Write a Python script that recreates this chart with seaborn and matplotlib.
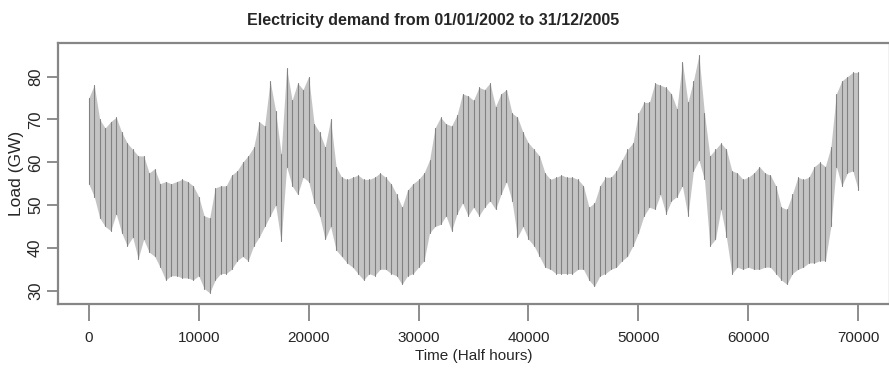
import numpy as np
import pandas as pd
import seaborn as sns
import matplotlib.pyplot as plt

time_hh = list(range(0, 70001, 500))

# daily peak envelope (GW)
load_upper = [75, 78, 70, 68, 69.5, 70.5, 67, 64.5, 63, 61.5,
              61.5, 57.5, 58.5, 55, 55.5, 55, 55.5, 56, 55.5, 54.5,
              52, 47.5, 47, 54, 54.5, 54.5, 57, 58, 60, 61.5,
              63.5, 69.5, 68.5, 79, 72, 62, 82, 74.5, 78.5, 77,
              80, 69, 67, 63.5, 70, 59, 56.5, 56, 56.5, 57,
              56, 56, 56.5, 57.5, 56.5, 55, 52.5, 49.5, 53.5, 55,
              56, 57.5, 60.5, 68, 70.5, 69, 68.5, 71, 76, 75.5,
              74.5, 77.5, 77, 78.5, 73, 76, 77, 71.5, 70.5, 67,
              64.5, 63, 61.5, 57.5, 56, 56.5, 57, 56.5, 56.5, 56,
              54.5, 49.5, 50.5, 54.5, 56.5, 56.5, 58, 60.5, 63, 64.5,
              71.5, 74, 74, 78.5, 78, 77.5, 76, 72.5, 83.5, 74,
              79, 85, 71.5, 61.5, 63, 64.5, 63, 58, 57.5, 56,
              56.5, 57.5, 59, 57.5, 57, 54.5, 49.5, 49, 52.5, 56.5,
              56, 56.5, 59, 60, 59, 63.5, 76, 79, 80, 81,
              81]

# night trough envelope (GW)
load_lower = [55, 52, 47, 45, 44, 48, 43.5, 40.5, 42.5, 37.5,
              42, 39, 38, 35.5, 32.5, 33.5, 33.5, 33, 33, 32.5,
              33.5, 30.5, 29.5, 32.5, 34, 34, 35, 37, 38, 37,
              40.5, 42.5, 45, 47.5, 50, 41.5, 59, 54.5, 52.5, 56.5,
              55.5, 50.5, 47.5, 42, 45, 39.5, 38, 36.5, 35.5, 34,
              32.5, 34, 33.5, 35, 35, 34, 33.5, 31.5, 33.5, 34,
              35.5, 37, 43.5, 45, 45.5, 47.5, 44, 48, 50.5, 47.5,
              49.5, 47.5, 49.5, 51, 49, 52.5, 55.5, 51, 42.5, 45,
              42, 40.5, 38, 35.5, 35, 34, 34, 34, 34, 35,
              35, 32.5, 31, 33.5, 34, 35, 35.5, 37, 38, 40.5,
              43.5, 47.5, 49.5, 49, 52.5, 48, 51, 52, 54.5, 47.5,
              58, 60.5, 56, 40.5, 42, 49, 42.5, 34, 35.5, 35,
              35.5, 35, 35, 35.5, 35.5, 34, 32.5, 31.5, 34, 35,
              35.5, 36.5, 36.5, 37, 37, 45, 59, 54.5, 57.5, 58,
              53.5]

assert len(time_hh) == len(load_upper) == len(load_lower)

df = pd.DataFrame({'t': time_hh, 'upper': load_upper, 'lower': load_lower})

# one peak-to-trough stroke per sample (each sample its own unit)
trace = pd.DataFrame({
    't': np.repeat(df['t'].values, 2),
    'load': np.column_stack([df['upper'], df['lower']]).ravel(),
    'unit': np.repeat(np.arange(len(df)), 2),
})

sns.set_style('ticks')
plt.rcParams['font.family'] = ['Liberation Sans', 'DejaVu Sans']

fig = plt.figure(figsize=(8.89, 3.68), dpi=100)
ax = fig.add_axes([0.0656, 0.1731, 0.9355, 0.7109])

ax.fill_between(df['t'], df['lower'], df['upper'], color='#c4c4c4', lw=0)
sns.lineplot(data=trace, x='t', y='load', units='unit', estimator=None,
             color='#7a7a7a', lw=0.8, alpha=0.9, ax=ax)

ax.set_xlim(-2765, 72880)
ax.set_ylim(26.82, 87.94)
ax.set_xticks(range(0, 70001, 10000))
ax.set_yticks(range(30, 81, 10))

for s in ax.spines.values():
    s.set_color('#868686')
    s.set_linewidth(1.6)

ax.tick_params(axis='x', length=12, width=1.2, color='#7a7a7a', pad=7, labelsize=11)
ax.tick_params(axis='y', length=8, width=1.2, color='#7a7a7a', pad=3, labelsize=12)
for lab in ax.get_yticklabels():
    lab.set_rotation(90)
    lab.set_va('center')

ax.set_xlabel('Time (Half hours)', fontsize=11, labelpad=3)
ax.set_ylabel('Load (GW)', fontsize=12.5, labelpad=3)

fig.text(0.487, 0.945, 'Electricity demand from 01/01/2002 to 31/12/2005',
         ha='center', va='center', fontsize=11.5, fontweight='bold')

fig.savefig('out.png', dpi=100)
